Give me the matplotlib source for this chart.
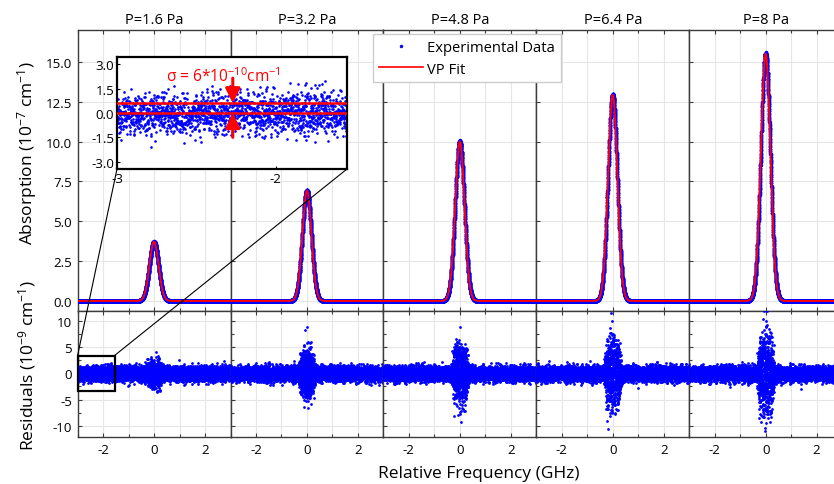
import numpy as np
import matplotlib
matplotlib.use('Agg')
import matplotlib.pyplot as plt
from matplotlib.ticker import MultipleLocator, FormatStrFormatter
from matplotlib.lines import Line2D
from matplotlib.patches import Rectangle, ConnectionPatch

plt.rcParams['font.family'] = ['Open Sans', 'DejaVu Sans']
plt.rcParams['mathtext.default'] = 'regular'
plt.rcParams['axes.unicode_minus'] = False

# values
pressures = ['1.6', '3.2', '4.8', '6.4', '8']
peak_height = [3.72, 6.92, 10.0, 12.93, 15.5]      # 1e-7 cm-1
peak_fwhm = [0.42, 0.42, 0.43, 0.43, 0.44]          # GHz
resid_base_sigma = [0.65, 0.65, 0.65, 0.65, 0.65]   # 1e-9 cm-1, sigma ~ 6e-10
resid_peak_sigma = [1.3, 2.3, 2.9, 3.6, 4.0]        # spread of residuals on the line centre
sigma_level = 0.6
n_pts = 7000

rng = np.random.default_rng(7)

W, H = 834, 485
fig = plt.figure(figsize=(W / 100, H / 100), dpi=100)

x0, pw = 77.6, 152.9
top_y0, top_y1, bot_y1 = 31, 312, 438
spine_c = '#3c3c3c'
grid_c = '#e6e6e6'
fs_tick = 9.6

tops, bots, resids = [], [], []
for i in range(5):
    left = (x0 + pw * i) / W
    at = fig.add_axes([left, 1 - top_y1 / H, pw / W, (top_y1 - top_y0) / H])
    ab = fig.add_axes([left, 1 - bot_y1 / H, pw / W, (bot_y1 - top_y1) / H])
    x = np.linspace(-3, 3, n_pts)
    s = peak_fwhm[i] / 2.3548
    prof = peak_height[i] * np.exp(-x ** 2 / (2 * s ** 2))
    env = resid_base_sigma[i] + (resid_peak_sigma[i] - resid_base_sigma[i]) * np.exp(-(x / 0.3) ** 6)
    res = rng.normal(0, 1, n_pts) * env
    resids.append((x, res))

    at.plot(x, prof + res * 0.01, 'o', ms=2.5, mew=0, color='#0000ff', zorder=3)
    at.plot(x, prof, '-', color='#ff0000', lw=1.4, zorder=4)
    ab.plot(x, res, 'o', ms=2.0, mew=0, color='#0000ff', zorder=3)

    at.set_xlim(-3, 3)
    at.set_ylim(-0.63, 17.0)
    ab.set_xlim(-3, 3)
    ab.set_ylim(-12.2, 12.0)
    for a in (at, ab):
        a.xaxis.set_major_locator(MultipleLocator(2))
        a.xaxis.set_minor_locator(MultipleLocator(1))
        a.grid(True, which='major', color=grid_c, lw=0.8, zorder=0)
        a.grid(True, which='minor', axis='x', color=grid_c, lw=0.8, zorder=0)
        a.tick_params(which='both', direction='in', top=True, length=3, width=0.8,
                      color=spine_c, labelsize=fs_tick, pad=4)
        a.tick_params(which='minor', length=2)
        for sp in a.spines.values():
            sp.set_color(spine_c)
            sp.set_linewidth(1.0)
        a.set_axisbelow(True)
    at.yaxis.set_major_locator(MultipleLocator(2.5))
    ab.yaxis.set_major_locator(MultipleLocator(5))
    ab.yaxis.set_minor_locator(MultipleLocator(2.5))
    at.tick_params(labelbottom=False)
    at.yaxis.set_major_formatter(FormatStrFormatter('%.1f'))
    if i > 0:
        at.tick_params(labelleft=False)
        ab.tick_params(labelleft=False)
    at.set_title(f'P={pressures[i]} Pa', fontsize=10.5, pad=5)
    tops.append(at)
    bots.append(ab)

fig.text(27.5 / W, 1 - 153 / H, 'Absorption (10$^{-7}$ cm$^{-1}$)', rotation=90,
         ha='center', va='center', fontsize=12.5)
fig.text(27.5 / W, 1 - 366 / H, 'Residuals (10$^{-9}$ cm$^{-1}$)', rotation=90,
         ha='center', va='center', fontsize=12.5)
fig.text(479 / W, 1 - 474 / H, 'Relative Frequency (GHz)', ha='center', va='center',
         fontsize=12.5)

handles = [Line2D([], [], marker='o', ms=2.5, mew=0, ls='none', color='#0000ff'),
           Line2D([], [], color='#ff0000', lw=1.2)]
fig.legend(handles, ['Experimental Data', 'VP Fit'], loc='upper left',
           bbox_to_anchor=(373 / W, 1 - 35 / H), fontsize=10.6, frameon=True,
           fancybox=False, edgecolor='#cccccc', framealpha=1, handlelength=3,
           borderpad=0.4, labelspacing=0.45, handletextpad=0.3, borderaxespad=0)

# zoomed inset of the first residual panel
zx = (-3, -1.55)
zy = (-3.45, 3.45)
ax_in = fig.add_axes([117 / W, 1 - 170 / H, 230 / W, 112 / H])
xr, rr = resids[0]
m = (xr >= zx[0]) & (xr <= zx[1])
ax_in.plot(xr[m], rr[m], 'o', ms=1.9, mew=0, color='#0000ff', zorder=2)
ax_in.axhline(0, color='#ff0000', lw=1.8, zorder=3)
ax_in.axhline(sigma_level, color='#ff0000', lw=1.8, zorder=3)
ax_in.set_xlim(*zx)
ax_in.set_ylim(*zy)
ax_in.set_xticks([-3, -2])
ax_in.set_yticks([-3.0, -1.5, 0.0, 1.5, 3.0])
ax_in.yaxis.set_major_formatter(FormatStrFormatter('%.1f'))
ax_in.tick_params(direction='in', length=2, labelsize=fs_tick, pad=2)
for sp in ax_in.spines.values():
    sp.set_color('black')
    sp.set_linewidth(1.6)
ax_in.annotate('', xy=(-2.27, sigma_level), xytext=(-2.27, 2.15),
               arrowprops=dict(arrowstyle='-|>', color='#ff0000', lw=2.2, mutation_scale=22,
                               shrinkA=0, shrinkB=0))
ax_in.annotate('', xy=(-2.27, 0.0), xytext=(-2.27, -1.5),
               arrowprops=dict(arrowstyle='-|>', color='#ff0000', lw=2.2, mutation_scale=22,
                               shrinkA=0, shrinkB=0))
ax_in.text(-2.69, 2.0, r'$\sigma$ = 6*10$^{-10}$cm$^{-1}$', color='#ff0000', fontsize=11.2,
           ha='left', va='baseline')

b0 = bots[0]
b0.add_patch(Rectangle((zx[0], zy[0]), zx[1] - zx[0], zy[1] - zy[0], fill=False,
                       edgecolor='black', lw=1.6, zorder=5, clip_on=False))
for xa in zx:
    cp = ConnectionPatch(xyA=(xa, zy[0]), coordsA=ax_in.transData,
                         xyB=(xa, zy[1]), coordsB=b0.transData,
                         color='black', lw=0.8)
    fig.add_artist(cp)

fig.savefig('out.png', dpi=100)
